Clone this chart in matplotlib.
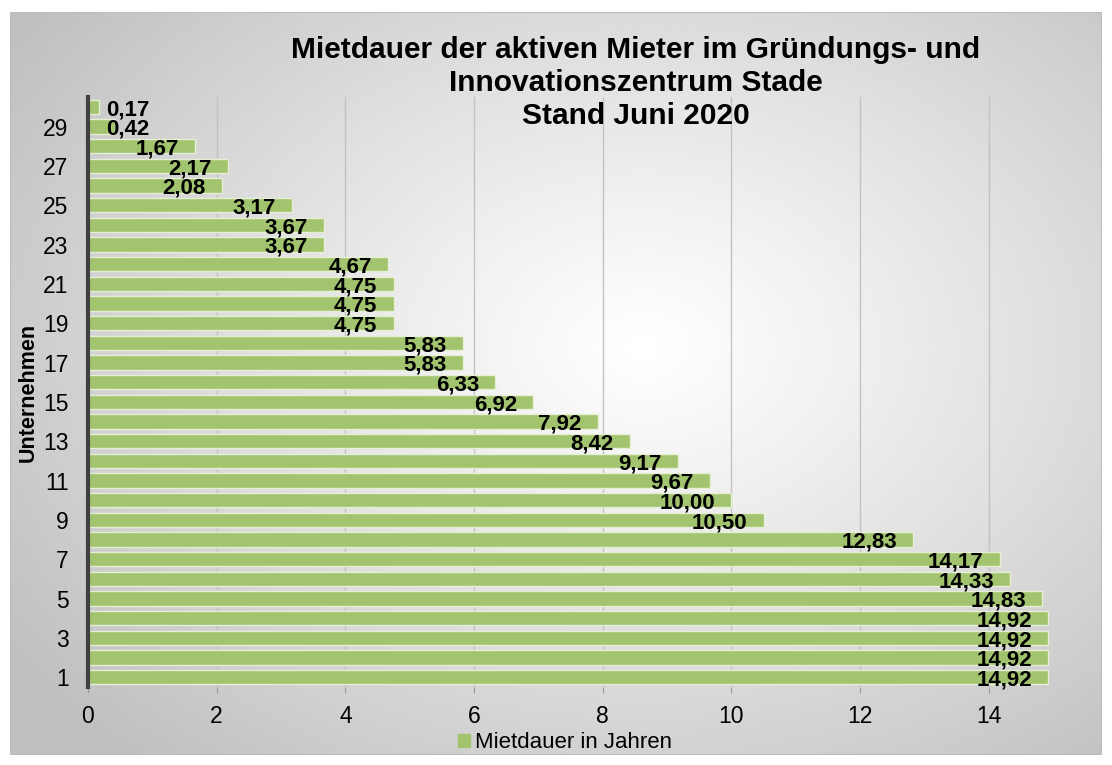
import numpy as np
import matplotlib.pyplot as plt
from matplotlib.patches import Rectangle

plt.rcParams['font.family'] = ['Liberation Sans', 'DejaVu Sans']

# Unternehmen 1..30 (von unten nach oben)
companies = list(range(1, 31))
years = [14.92, 14.92, 14.92, 14.92, 14.83, 14.33, 14.17, 12.83, 10.50, 10.00,
         9.67, 9.17, 8.42, 7.92, 6.92, 6.33, 5.83, 5.83, 4.75, 4.75,
         4.75, 4.67, 3.67, 3.67, 3.17, 2.08, 2.17, 1.67, 0.42, 0.17]
xticks = [0, 2, 4, 6, 8, 10, 12, 14]
yticks = list(range(1, 31, 2))

title = ("Mietdauer der aktiven Mieter im Gründungs- und\n"
         "Innovationszentrum Stade\nStand Juni 2020")
bar_color = '#A3C46E'

fig = plt.figure(figsize=(11.12, 7.65), dpi=100)

# Hintergrund mit radialem Verlauf
bg = fig.add_axes([10 / 1112, 10 / 765, 1092 / 1112, 743 / 765], zorder=-2)
yy, xx = np.mgrid[0:1:300j, 0:1:440j]
r = np.sqrt(((xx - 0.58) / 0.7) ** 2 + ((yy - 0.55) / 0.75) ** 2)
shade = 1.0 - 0.25 * np.clip(r, 0, 1) ** 1.1
bg.imshow(shade, cmap='gray', vmin=0, vmax=1, extent=[0, 1, 0, 1],
          aspect='auto', origin='lower')
bg.add_patch(Rectangle((0, 0), 1, 1, transform=bg.transAxes, fill=False,
                       edgecolor='#BDBDBD', lw=1.5))
bg.set_axis_off()

ax = fig.add_axes([88 / 1112, 1 - 687 / 765, 965 / 1112, 590 / 765])
ax.patch.set_alpha(0)

ax.barh(companies, years, height=0.72, color=bar_color,
        edgecolor='#E6EFD6', linewidth=1.0, zorder=3)

for c, v in zip(companies, years):
    label = f"{v:.2f}".replace('.', ',')
    ax.text(max(v - 0.25, 0.96), c - 0.15, label, ha='right', va='center',
            fontsize=16, fontweight='bold', color='black', zorder=4)

ax.set_xlim(0, 15)
ax.set_ylim(0.5, 30.5)
ax.set_xticks(xticks)
ax.set_yticks(yticks)
ax.tick_params(axis='x', length=4, color='#9A9A9A', labelsize=16.5, pad=9)
ax.tick_params(axis='y', length=0, labelsize=16.5, pad=14)
ax.xaxis.grid(True, color='#C2C2C2', lw=1.0, zorder=0)
ax.set_axisbelow(True)

for s in ['top', 'right', 'bottom']:
    ax.spines[s].set_visible(False)
ax.spines['left'].set_color('#404040')
ax.spines['left'].set_linewidth(3)
ax.spines['left'].set_zorder(5)

ax.set_ylabel('Unternehmen', fontsize=15.5, fontweight='bold', labelpad=3)

fig.text(636 / 1112, 1 - 83 / 765, title, ha='center', va='center',
         fontsize=21.5, fontweight='bold', linespacing=1.22)

ax.legend([Rectangle((0, 0), 1, 1, color=bar_color)], ['Mietdauer in Jahren'],
          loc='center', bbox_to_anchor=(565 / 1112, 1 - 743 / 765),
          bbox_transform=fig.transFigure, frameon=False, fontsize=16,
          handlelength=0.55, handleheight=0.55, handletextpad=0.25,
          borderpad=0)

fig.savefig('out.png', dpi=100)
